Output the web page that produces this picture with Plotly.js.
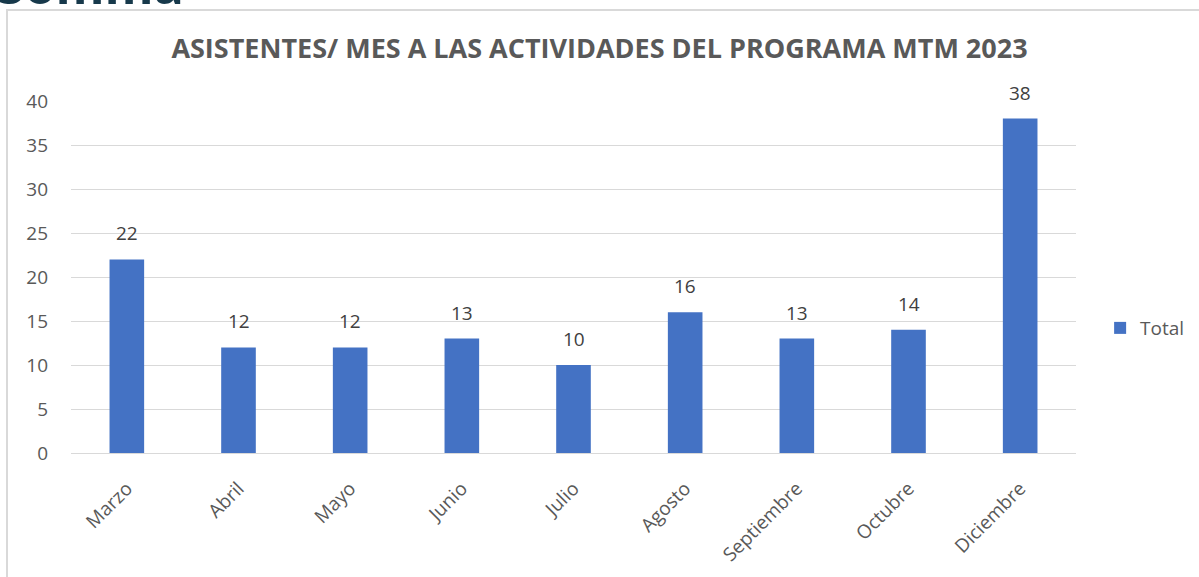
<!DOCTYPE html>
<html>
<head>
<meta charset="utf-8">
<script src="https://cdn.plot.ly/plotly-3.0.1.min.js"></script>
<style>
html,body{margin:0;padding:0;background:#fff;overflow:hidden;}
#wrap{position:relative;width:1199px;height:577px;}
#chart{width:1199px;height:577px;}
#header{position:absolute;left:-3px;top:-40px;font-family:"Open Sans",sans-serif;font-weight:bold;font-size:50px;line-height:50px;color:#17394b;white-space:nowrap;z-index:5;}
</style>
</head>
<body>
<div id="wrap">
<div id="chart"></div>
<div id="header"></div>
</div>
<script>
const months = ["Marzo","Abril","Mayo","Junio","Julio","Agosto","Septiembre","Octubre","Diciembre"];
const totals = [22,12,12,13,10,16,13,14,38];
const seriesName = "Total";
const chartTitle = "ASISTENTES/ MES A LAS ACTIVIDADES DEL PROGRAMA MTM 2023";
const headerText = "Somma";
const yTicks = [0,5,10,15,20,25,30,35,40];

document.getElementById("header").textContent = headerText;

const trace = {
  type: "bar",
  x: months,
  y: totals,
  name: seriesName,
  width: 0.31,
  marker: {color: "#4472C4"}
};

const labelAnnotations = months.map((m, i) => ({
  x: m, y: totals[i], xref: "x", yref: "y", text: String(totals[i]),
  showarrow: false, yanchor: "middle", yshift: 26,
  font: {family: "Open Sans, sans-serif", size: 19, color: "#404040"}
}));

const layout = {
  width: 1199, height: 577,
  margin: {l: 71, r: 123, t: 101, b: 124, autoexpand: false},
  paper_bgcolor: "#ffffff", plot_bgcolor: "#ffffff",
  font: {family: "Open Sans, sans-serif", color: "#595959"},
  title: {text: "<b>" + chartTitle + "</b>", font: {size: 27, color: "#595959", family: "Open Sans, sans-serif"},
          x: 0.5, xanchor: "center", y: 1 - 49/577, yanchor: "middle", yref: "container"},
  showlegend: true,
  legend: {x: 1.024, xanchor: "left", y: 0.355, yanchor: "middle", font: {size: 19, color: "#595959"}, itemwidth: 30},
  xaxis: {type: "category", tickangle: -45, tickfont: {size: 19, color: "#595959"}, showgrid: false,
          showline: true, linecolor: "#d9d9d9", linewidth: 1, ticks: "", ticklabelstandoff: 16, automargin: false},
  yaxis: {range: [0, 40], tickvals: yTicks, tickfont: {size: 19, color: "#595959"}, showgrid: true,
          gridcolor: "#d9d9d9", gridwidth: 1, zeroline: false, showline: false, ticks: "", ticklabelstandoff: 22, automargin: false},
  shapes: [
    {type: "rect", xref: "paper", yref: "paper", x0: (7-71)/1005, x1: 1.2, y0: -0.5, y1: (453-10)/352,
     line: {color: "#d9d9d9", width: 2}, fillcolor: "rgba(0,0,0,0)", layer: "below"}
  ],
  annotations: labelAnnotations
};

Plotly.newPlot("chart", [trace], layout, {displayModeBar: false, staticPlot: true});
</script>
</body>
</html>
